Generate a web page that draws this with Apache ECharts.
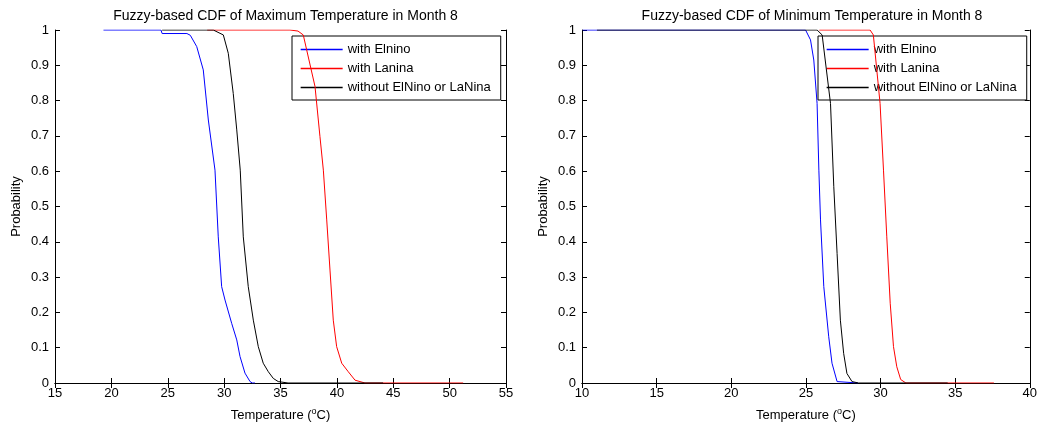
<!DOCTYPE html>
<html><head><meta charset="utf-8">
<script src="https://cdn.jsdelivr.net/npm/echarts@6/dist/echarts.min.js"></script>
<style>html,body{margin:0;padding:0;background:#fff}#c{width:1040px;height:428px}</style>
</head><body><div id="c"></div>
<script>
// ----- Data -----
const seriesNames = ['with Elnino', 'with Lanina', 'without ElNino or LaNina'];
const titles = ['Fuzzy-based CDF of Maximum Temperature in Month 8', 'Fuzzy-based CDF of Minimum Temperature in Month 8'];
const yTicks = [0, 0.1, 0.2, 0.3, 0.4, 0.5, 0.6, 0.7, 0.8, 0.9, 1];

// Maximum temperature (left)
const maxElninoX = [19.3, 24.4, 24.5, 26.7, 27.0, 27.57, 28.15, 28.6, 29.19, 29.48, 29.78, 30.08, 30.67, 31.12, 31.41, 31.85, 32.3, 32.5, 32.74];
const maxElninoY = [1, 1, 0.99, 0.99, 0.985, 0.953, 0.887, 0.745, 0.603, 0.414, 0.273, 0.235, 0.169, 0.122, 0.075, 0.028, 0.004, 0, 0];
const maxLaninaX = [28.5, 35.84, 36.55, 37.02, 38.06, 38.5, 38.8, 39.1, 39.39, 39.68, 39.98, 40.43, 41.01, 41.61, 42.49, 51.2];
const maxLaninaY = [1, 1, 0.997, 0.986, 0.84, 0.698, 0.603, 0.462, 0.32, 0.178, 0.103, 0.056, 0.032, 0.008, 0, 0];
const maxNormalX = [24.5, 29.04, 29.93, 30.37, 30.81, 31.12, 31.43, 31.7, 32.14, 32.59, 33.03, 33.47, 33.92, 34.36, 34.8, 35.67, 44.1];
const maxNormalY = [1, 1, 0.986, 0.934, 0.82, 0.717, 0.603, 0.414, 0.273, 0.178, 0.103, 0.056, 0.032, 0.013, 0.004, 0, 0];

// Minimum temperature (right)
const minElninoX = [10.05, 24.98, 25.31, 25.53, 25.75, 25.87, 25.98, 26.2, 26.53, 26.75, 27.09, 27.2, 28.5];
const minElninoY = [1, 1, 0.972, 0.915, 0.792, 0.603, 0.462, 0.273, 0.131, 0.056, 0.004, 0, 0];
const minLaninaX = [25.9, 29.3, 29.52, 29.75, 29.97, 30.2, 30.42, 30.65, 30.87, 31.09, 31.35, 31.7, 37.6];
const minLaninaY = [1, 1, 0.986, 0.887, 0.792, 0.603, 0.414, 0.226, 0.103, 0.046, 0.01, 0, 0];
const minNormalX = [11.0, 25.75, 26.09, 26.65, 26.87, 27.09, 27.31, 27.53, 27.75, 28.09, 28.53, 34.5];
const minNormalY = [1, 1, 0.986, 0.792, 0.556, 0.367, 0.178, 0.084, 0.027, 0.004, 0, 0];

const colors = ['#0000ff', '#ff0000', '#000000'];
const FONT = 'Liberation Sans, Arial, sans-serif';

function pairs(xs, ys) { return xs.map((x, i) => [x, ys[i]]); }

const grids = [
  { left: 55, top: 30, width: 451, height: 353 },
  { left: 582, top: 30, width: 450, height: 353 }
];
const legendLeft = [292, 818];
const xRanges = [[15, 55], [10, 40]];
const allData = [
  [pairs(maxElninoX, maxElninoY), pairs(maxLaninaX, maxLaninaY), pairs(maxNormalX, maxNormalY)],
  [pairs(minElninoX, minElninoY), pairs(minLaninaX, minLaninaY), pairs(minNormalX, minNormalY)]
];

const xAxes = [], yAxes = [], series = [], titleArr = [], legends = [];
const axLine = { show: true, lineStyle: { color: '#000', width: 1 } };
const tick = { show: true, inside: true, length: 5, lineStyle: { color: '#000' } };
const lab = { color: '#000', fontSize: 13, fontFamily: FONT };

grids.forEach((g, gi) => {
  const [mn, mx] = xRanges[gi];
  xAxes.push({
    type: 'value', gridIndex: gi, min: mn, max: mx, interval: 5, position: 'bottom',
    axisLine: axLine, axisTick: tick, splitLine: { show: false },
    axisLabel: Object.assign({ margin: 4 }, lab),
    name: '{a|Temperature (}{s|o}{a|C)}', nameLocation: 'middle', nameGap: 24,
    nameTextStyle: { rich: { a: { fontSize: 13, fontFamily: FONT, color: '#000' }, s: { fontSize: 9, fontFamily: FONT, color: '#000', verticalAlign: 'top', padding: [0, 0, 8, 0] } } }
  });
  xAxes.push({
    type: 'value', gridIndex: gi, min: mn, max: mx, interval: 5, position: 'top',
    axisLine: axLine, axisTick: tick, splitLine: { show: false }, axisLabel: { show: false }
  });
  yAxes.push({
    type: 'value', gridIndex: gi, min: 0, max: 1, interval: 0.1, position: 'left',
    axisLine: axLine, axisTick: tick, splitLine: { show: false },
    axisLabel: Object.assign({ margin: 6, formatter: v => String(Math.round(v * 10) / 10) }, lab),
    name: 'Probability', nameLocation: 'middle', nameGap: 32,
    nameTextStyle: { fontSize: 13, fontFamily: FONT, color: '#000' }
  });
  yAxes.push({
    type: 'value', gridIndex: gi, min: 0, max: 1, interval: 0.1, position: 'right',
    axisLine: axLine, axisTick: tick, splitLine: { show: false }, axisLabel: { show: false }
  });
  titleArr.push({
    text: titles[gi], left: g.left + g.width / 2, top: 4, textAlign: 'center',
    textStyle: { fontSize: 14, fontWeight: 'normal', fontFamily: FONT, color: '#000' }
  });
  allData[gi].forEach((d, si) => {
    series.push({
      type: 'line', name: seriesNames[si], xAxisIndex: gi * 2, yAxisIndex: gi * 2,
      data: d, symbol: 'none', smooth: false, z: 3 + si, color: colors[si],
      lineStyle: { color: colors[si], width: 1 }, itemStyle: { color: colors[si] }
    });
  });
  legends.push({
    data: seriesNames.map((n, i) => ({
      name: n,
      lineStyle: { color: colors[i], width: 1.3, opacity: 1 },
      itemStyle: { color: colors[i], opacity: 0 }
    })),
    orient: 'vertical', left: legendLeft[gi], top: 36,
    itemWidth: 42, itemHeight: 15, itemGap: 4, padding: [6, 10, 5, 8],
    borderColor: '#000', borderWidth: 1, backgroundColor: '#fff',
    textStyle: { fontSize: 13, fontFamily: FONT, color: '#000', lineHeight: 15 },
    selectedMode: false
  });
});

const chart = echarts.init(document.getElementById('c'), null, { renderer: 'canvas' });
chart.setOption({
  animation: false,
  backgroundColor: '#fff',
  title: titleArr,
  legend: legends,
  grid: grids,
  xAxis: xAxes,
  yAxis: yAxes,
  series: series
});
</script></body></html>
